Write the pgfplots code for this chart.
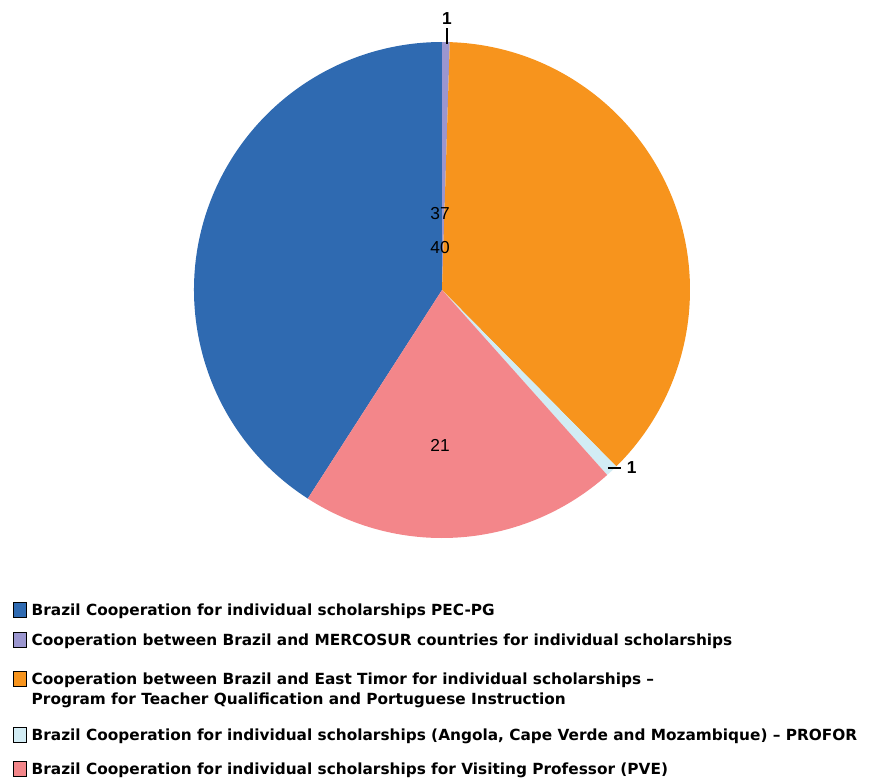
\documentclass[border=0pt]{standalone}
\usepackage{pgfplots}
\pgfplotsset{compat=1.18}
\usepackage{pgfplotstable}
\usepackage{fontspec}
\setmainfont{Liberation Sans}
\newfontfamily\legfont{DejaVu Sans}

\definecolor{c0}{HTML}{2F6AB1}
\definecolor{c1}{HTML}{9B96CF}
\definecolor{c2}{HTML}{F7941D}
\definecolor{c3}{HTML}{D2ECF4}
\definecolor{c4}{HTML}{F3868A}

\pgfplotsset{
  sq/.style={legend image code/.code={\fill[##1] (0pt,-1.46pt) rectangle (9.4pt,9.84pt);}},
  sqtwo/.style={legend image code/.code={\fill[##1] (0pt,13.54pt) rectangle (9.4pt,24.84pt);}},
}

% share of each programme (legend order)
\pgfplotstableread{
value
40.9
0.5
37.1
0.8
20.7
}\piedata

\begin{document}
\begin{tikzpicture}
\useasboundingbox (0pt,0pt) rectangle (654.75pt,-583.5pt);
\def\pietotal{0}
\pgfplotsforeachungrouped \i in {0,...,4}{%
  \pgfplotstablegetelem{\i}{value}\of\piedata
  \pgfmathsetmacro\pietotal{\pietotal+\pgfplotsretval}%
}
\pgfplotstablegetelem{0}{value}\of\piedata
\pgfmathsetmacro\cur{90+360*\pgfplotsretval/\pietotal}
\pgfplotsforeachungrouped \i in {0,...,4}{%
  \pgfplotstablegetelem{\i}{value}\of\piedata
  \pgfmathsetmacro\nxt{\cur-360*\pgfplotsretval/\pietotal}%
  \expandafter\xdef\csname pieA\i\endcsname{\cur}%
  \expandafter\xdef\csname pieB\i\endcsname{\nxt}%
  \global\let\cur\nxt
}
\begin{axis}[at={(145.5pt,-403.5pt)}, anchor=south west, scale only axis,
  width=372pt, height=372pt, xmin=-1, xmax=1, ymin=-1, ymax=1,
  hide axis, clip=false,
  legend style={at={(-0.3643,-0.1210)}, anchor=north west, draw=none, fill=none,
    inner sep=0pt, outer sep=0pt, row sep=8pt,
    font=\legfont\fontsize{11.5}{15}\selectfont\bfseries,
    cells={anchor=base west, align=left, inner sep=0pt},
    /tikz/every odd column/.append style={column sep=2pt}},
]
\pgfplotsinvokeforeach{0,...,4}{%
  \fill[c#1] (axis cs:0,0) -- ++(\csname pieA#1\endcsname:186pt)
    arc[start angle=\csname pieA#1\endcsname, end angle=\csname pieB#1\endcsname, radius=186pt] -- cycle;
}
\addlegendimage{sq, fill=c0}
\addlegendentry{\rule{0pt}{11pt}Brazil Cooperation for individual scholarships PEC-PG}
\addlegendimage{sq, fill=c1}
\addlegendentry{\rule{0pt}{9.2pt}Cooperation between Brazil and MERCOSUR countries for individual scholarships}
\addlegendimage{sqtwo, fill=c2}
\addlegendentry{\rule{0pt}{15.7pt}Cooperation between Brazil and East Timor for individual scholarships –\\Program for Teacher Qualification and Portuguese Instruction}
\addlegendimage{sq, fill=c3}
\addlegendentry{\rule{0pt}{13.1pt}Brazil Cooperation for individual scholarships (Angola, Cape Verde and Mozambique) – PROFOR}
\addlegendimage{sq, fill=c4}
\addlegendentry{\rule{0pt}{12.2pt}Brazil Cooperation for individual scholarships for Visiting Professor (PVE)}

\node[font=\fontsize{13}{15}\selectfont] at (axis cs:-0.008,0.310) {37};
\node[font=\fontsize{13}{15}\selectfont] at (axis cs:-0.008,0.173) {40};
\node[font=\fontsize{13}{15}\selectfont] at (axis cs:-0.008,-0.625) {21};
\node[font=\fontsize{13}{15}\selectfont\bfseries] at (axis cs:0.020,1.095) {1};
\node[font=\fontsize{13}{15}\selectfont\bfseries] at (axis cs:0.765,-0.716) {1};
\draw[line width=1pt] (axis cs:0.020,1.056) -- (axis cs:0.020,0.992);
\draw[line width=1pt] (axis cs:0.669,-0.718) -- (axis cs:0.722,-0.718);
\end{axis}
\end{tikzpicture}
\end{document}
